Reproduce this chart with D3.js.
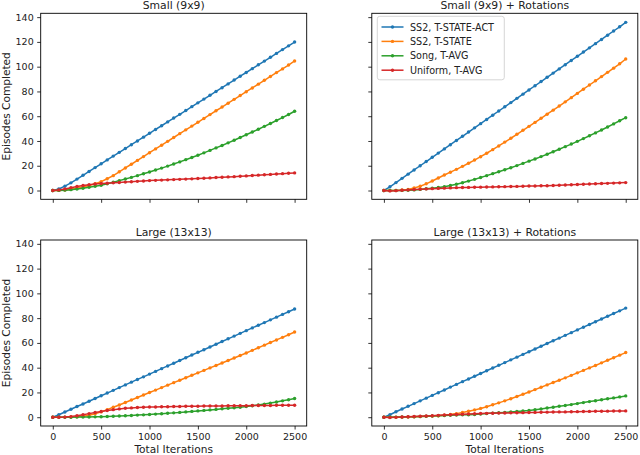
<!DOCTYPE html>
<html>
<head>
<meta charset="utf-8">
<script src="https://cdn.jsdelivr.net/npm/d3@7"></script>
<style>
  body { margin: 0; background: #fff; }
  svg { display: block; font-family: "DejaVu Sans", sans-serif; }
</style>
</head>
<body>
<svg id="chart" width="640" height="455"></svg>
<script>
// x positions of every logged point (iterations)
const iterations = [0, 62.5, 125, 187.5, 250, 312.5, 375, 437.5, 500, 562.5, 625, 687.5, 750, 812.5, 875, 937.5,
  1000, 1062.5, 1125, 1187.5, 1250, 1312.5, 1375, 1437.5, 1500, 1562.5, 1625, 1687.5, 1750, 1812.5, 1875, 1937.5,
  2000, 2062.5, 2125, 2187.5, 2250, 2312.5, 2375, 2437.5, 2500]

const seriesNames = ['SS2, T-STATE-ACT', 'SS2, T-STATE', 'Song, T-AVG', 'Uniform, T-AVG']
const seriesColors = ['#1f77b4', '#ff7f0e', '#2ca02c', '#d62728']
const panelTitles = ['Small (9x9)', 'Small (9x9) + Rotations', 'Large (13x13)', 'Large (13x13) + Rotations']
const xTicks = [0, 500, 1000, 1500, 2000, 2500]
const yTicks = [0, 20, 40, 60, 80, 100, 120, 140]

// Small (9x9)
const smallAct = [0, 1.2, 3.5, 6.2, 9.2, 12.3, 15.4, 18.5, 21.6, 24.7, 27.8, 30.8, 33.9, 37.0, 40.0, 43.1,
  46.2, 49.3, 52.3, 55.4, 58.5, 61.5, 64.6, 67.7, 70.8, 73.8, 76.9, 80.0, 83.0, 86.1, 89.2, 92.3,
  95.3, 98.4, 101.5, 104.5, 107.6, 110.7, 113.8, 116.8, 119.9]
const smallState = [0, 0.1, 0.4, 1.0, 1.9, 2.9, 4.1, 5.5, 7.2, 9.5, 12.0, 15.1, 18.2, 21.2, 24.3, 27.4,
  30.5, 33.6, 36.6, 39.7, 42.8, 45.9, 49.0, 52.0, 55.1, 58.2, 61.3, 64.4, 67.4, 70.5, 73.6, 76.7,
  79.8, 82.8, 85.9, 89.0, 92.1, 95.2, 98.2, 101.3, 104.6]
const smallSong = [0, 0.1, 0.3, 0.7, 1.2, 1.8, 2.6, 3.4, 4.3, 5.5, 6.7, 8.0, 9.3, 10.6, 12.0, 13.5,
  15.0, 16.5, 18.1, 19.7, 21.4, 23.1, 24.9, 26.7, 28.5, 30.4, 32.4, 34.4, 36.4, 38.5, 40.6, 42.8,
  45.0, 47.2, 49.5, 51.8, 54.1, 56.5, 58.9, 61.4, 64.0]
const smallUniform = [0, 0.5, 1.3, 2.3, 3.2, 4.0, 4.7, 5.2, 5.6, 5.9, 6.2, 6.5, 6.8, 7.1, 7.4, 7.7,
  8.0, 8.2, 8.4, 8.6, 8.8, 9.0, 9.2, 9.4, 9.7, 9.9, 10.2, 10.5, 10.7, 11.0, 11.2, 11.5,
  11.8, 12.1, 12.4, 12.7, 13.0, 13.3, 13.6, 13.9, 14.2]

// Small (9x9) + Rotations
const smallRotAct = [0, 3.0, 6.4, 9.8, 13.2, 16.6, 20.0, 23.4, 26.8, 30.2, 33.6, 37.0, 40.4, 43.8, 47.2, 50.6,
  54.0, 57.4, 60.8, 64.2, 67.6, 71.0, 74.4, 77.8, 81.2, 84.6, 88.0, 91.4, 94.8, 98.2, 101.6, 105.0,
  108.4, 111.8, 115.2, 118.6, 122.0, 125.4, 128.8, 132.2, 135.8]
const smallRotState = [0, 0, 0.1, 0.4, 0.9, 2.0, 3.4, 5.4, 7.7, 10.1, 12.5, 14.8, 17.1, 19.5, 22.0, 24.6,
  27.3, 30.1, 33.0, 36.0, 39.1, 42.2, 45.4, 48.6, 51.8, 55.0, 58.3, 61.6, 64.9, 68.2, 71.6, 75.0,
  78.4, 81.8, 85.2, 88.6, 92.0, 95.4, 98.8, 102.3, 106.2]
const smallRotSong = [0, 0, 0, 0.1, 0.2, 0.5, 0.9, 1.4, 1.9, 2.5, 3.1, 4.0, 5.1, 6.3, 7.6, 9.0,
  10.5, 12.0, 13.6, 15.2, 16.8, 18.4, 20.1, 21.9, 23.7, 25.5, 27.4, 29.3, 31.3, 33.3, 35.4, 37.5,
  39.7, 41.9, 44.2, 46.5, 48.9, 51.3, 53.8, 56.3, 58.8]
const smallRotUniform = [0, -0.3, -0.1, 0.2, 0.5, 0.8, 1.1, 1.3, 1.5, 1.7, 1.9, 2.1, 2.3, 2.4, 2.5, 2.6,
  2.7, 2.8, 2.9, 3.0, 3.1, 3.2, 3.3, 3.4, 3.6, 3.7, 3.8, 3.9, 4.0, 4.2, 4.4, 4.6,
  4.8, 5.0, 5.2, 5.4, 5.6, 5.8, 6.0, 6.2, 6.4]

// Large (13x13)
const largeAct = [0, 2.0, 4.2, 6.4, 8.6, 10.7, 12.9, 15.1, 17.3, 19.5, 21.7, 23.9, 26.1, 28.3, 30.5, 32.6,
  34.8, 37.0, 39.2, 41.4, 43.6, 45.8, 48.0, 50.2, 52.4, 54.5, 56.7, 58.9, 61.1, 63.3, 65.5, 67.7,
  69.9, 72.1, 74.3, 76.4, 78.6, 80.8, 83.0, 85.2, 87.4]
const largeState = [0, 0, 0.1, 0.2, 0.4, 0.8, 1.5, 2.7, 4.3, 6.1, 8.0, 9.9, 11.9, 13.9, 15.9, 17.9,
  19.9, 21.9, 23.9, 25.9, 27.9, 29.9, 31.9, 33.9, 35.8, 37.8, 39.8, 41.8, 43.8, 45.8, 47.8, 49.8,
  51.9, 54.0, 56.1, 58.2, 60.3, 62.4, 64.5, 66.6, 68.8]
const largeSong = [0, 0, 0, 0, 0.1, 0.1, 0.2, 0.3, 0.4, 0.6, 0.8, 1.0, 1.2, 1.4, 1.7, 1.9,
  2.2, 2.5, 2.8, 3.2, 3.5, 3.9, 4.3, 4.7, 5.1, 5.5, 5.9, 6.3, 6.8, 7.2, 7.6, 8.1,
  8.6, 9.2, 9.9, 10.6, 11.4, 12.3, 13.2, 14.1, 15.1]
const largeUniform = [0, 0, 0.1, 0.5, 1.2, 2.0, 2.9, 3.8, 4.6, 5.4, 6.1, 6.7, 7.2, 7.5, 7.8, 8.0,
  8.2, 8.3, 8.4, 8.5, 8.6, 8.7, 8.8, 8.9, 8.9, 9.0, 9.0, 9.1, 9.1, 9.2, 9.2, 9.3,
  9.3, 9.4, 9.4, 9.5, 9.5, 9.6, 9.6, 9.7, 9.7]

// Large (13x13) + Rotations
const largeRotAct = [0, 2.0, 4.4, 6.6, 8.8, 11.0, 13.2, 15.4, 17.6, 19.8, 22.0, 24.3, 26.5, 28.7, 30.9, 33.1,
  35.3, 37.5, 39.7, 41.9, 44.1, 46.3, 48.5, 50.7, 52.9, 55.1, 57.3, 59.5, 61.7, 63.9, 66.1, 68.3,
  70.5, 72.7, 74.9, 77.1, 79.3, 81.5, 83.7, 85.9, 88.1]
const largeRotState = [0, 0, 0, 0.1, 0.2, 0.3, 0.5, 0.7, 0.9, 1.2, 1.6, 2.2, 2.9, 3.8, 4.8, 5.9,
  7.1, 8.5, 10.0, 11.6, 13.2, 14.9, 16.7, 18.5, 20.4, 22.3, 24.2, 26.1, 28.0, 29.9, 31.8, 33.8,
  35.8, 37.8, 39.8, 41.8, 43.9, 46.0, 48.0, 50.1, 52.2]
const largeRotSong = [0, 0, 0.1, 0.2, 0.3, 0.4, 0.6, 0.8, 1.0, 1.2, 1.4, 1.6, 1.8, 2.0, 2.0, 2.2,
  2.5, 2.9, 3.3, 3.6, 3.9, 4.3, 4.6, 5.0, 5.4, 6.0, 6.7, 7.4, 8.1, 8.8, 9.4, 10.2,
  11.0, 11.8, 12.6, 13.3, 14.1, 14.9, 15.6, 16.4, 17.2]
const largeRotUniform = [0, -0.3, -0.1, 0.2, 0.4, 0.6, 0.8, 1.0, 1.2, 1.5, 1.8, 2.0, 2.2, 2.4, 2.6, 2.8,
  3.0, 3.1, 3.2, 3.3, 3.4, 3.5, 3.6, 3.7, 3.8, 3.9, 4.0, 4.1, 4.2, 4.3, 4.3, 4.4,
  4.5, 4.6, 4.7, 4.8, 4.8, 4.9, 5.0, 5.0, 5.1]

const panelSeries = [
  [smallAct, smallState, smallSong, smallUniform],
  [smallRotAct, smallRotState, smallRotSong, smallRotUniform],
  [largeAct, largeState, largeSong, largeUniform],
  [largeRotAct, largeRotState, largeRotSong, largeRotUniform]
]

const svg = d3.select('#chart')

// axes boxes: [left, right] per column, [top, bottom] per row
const cols = [[40.7, 306.7], [371.8, 637.8]]
const rows = [[13.3, 199.3], [240, 426]]
const tickFont = 9.5

panelSeries.forEach((series, p) => {
  const col = p % 2, row = Math.floor(p / 2)
  const [left, right] = cols[col]
  const [top, bottom] = rows[row]

  const x = d3.scaleLinear().domain([-125, 2625]).range([left, right])
  const y = d3.scaleLinear().domain([-7.1, 143.1]).range([bottom, top])

  const g = svg.append('g')

  const xAxis = d3.axisBottom(x).tickValues(xTicks).tickSize(3.5).tickPadding(3.5)
    .tickFormat(row === 0 ? '' : d3.format('d'))
  const yAxis = d3.axisLeft(y).tickValues(yTicks).tickSize(3.5).tickPadding(3.5)
    .tickFormat(col === 1 ? '' : d3.format('d'))

  const gx = g.append('g').attr('transform', 'translate(0,' + bottom + ')').call(xAxis)
  const gy = g.append('g').attr('transform', 'translate(' + left + ',0)').call(yAxis)
  ;[gx, gy].forEach(a => {
    a.select('.domain').remove()
    a.selectAll('.tick line').attr('stroke', '#000').attr('stroke-width', 0.8)
    a.selectAll('.tick text').attr('fill', '#222').style('font-size', tickFont + 'px')
      .style('font-family', '"DejaVu Sans", sans-serif')
  })

  const line = d3.line()
    .x((d, i) => x(iterations[i]))
    .y(d => y(d))

  series.forEach((vals, s) => {
    g.append('path')
      .datum(vals)
      .attr('d', line)
      .attr('fill', 'none')
      .attr('stroke', seriesColors[s])
      .attr('stroke-width', 1.5)
    g.append('g').selectAll('circle')
      .data(vals)
      .join('circle')
      .attr('cx', (d, i) => x(iterations[i]))
      .attr('cy', d => y(d))
      .attr('r', 1.7)
      .attr('fill', seriesColors[s])
  })

  g.append('rect')
    .attr('x', left).attr('y', top)
    .attr('width', right - left).attr('height', bottom - top)
    .attr('fill', 'none').attr('stroke', '#000').attr('stroke-width', 0.9)

  g.append('text')
    .attr('x', (left + right) / 2).attr('y', top - 4.5)
    .attr('text-anchor', 'middle')
    .style('font-size', '10.8px').attr('fill', '#222')
    .text(panelTitles[p])

  if (row === 1) {
    g.append('text')
      .attr('x', (left + right) / 2).attr('y', 453)
      .attr('text-anchor', 'middle')
      .style('font-size', '10.6px').attr('fill', '#222')
      .text('Total Iterations')
  }
  if (col === 0) {
    g.append('text')
      .attr('transform', 'translate(9.5,' + (top + bottom) / 2 + ') rotate(-90)')
      .attr('text-anchor', 'middle')
      .style('font-size', '10.6px').attr('fill', '#222')
      .text('Episodes Completed')
  }

  // legend only in the top-right panel
  if (p === 1) {
    const lg = g.append('g')
    lg.append('rect')
      .attr('x', 377.3).attr('y', 16.3)
      .attr('width', 127).attr('height', 63.5)
      .attr('rx', 2.5)
      .attr('fill', 'rgba(255,255,255,0.8)')
      .attr('stroke', '#ccc').attr('stroke-width', 0.8)
    seriesNames.forEach((name, s) => {
      const ly = 27 + s * 14.4
      lg.append('line')
        .attr('x1', 381.5).attr('x2', 403.5)
        .attr('y1', ly).attr('y2', ly)
        .attr('stroke', seriesColors[s]).attr('stroke-width', 1.5)
      lg.append('circle')
        .attr('cx', 392.5).attr('cy', ly).attr('r', 1.7)
        .attr('fill', seriesColors[s])
      lg.append('text')
        .attr('x', 410).attr('y', ly + 3.5)
        .style('font-size', '9.6px').attr('fill', '#222')
        .text(name)
    })
  }
})
</script>
</body>
</html>
